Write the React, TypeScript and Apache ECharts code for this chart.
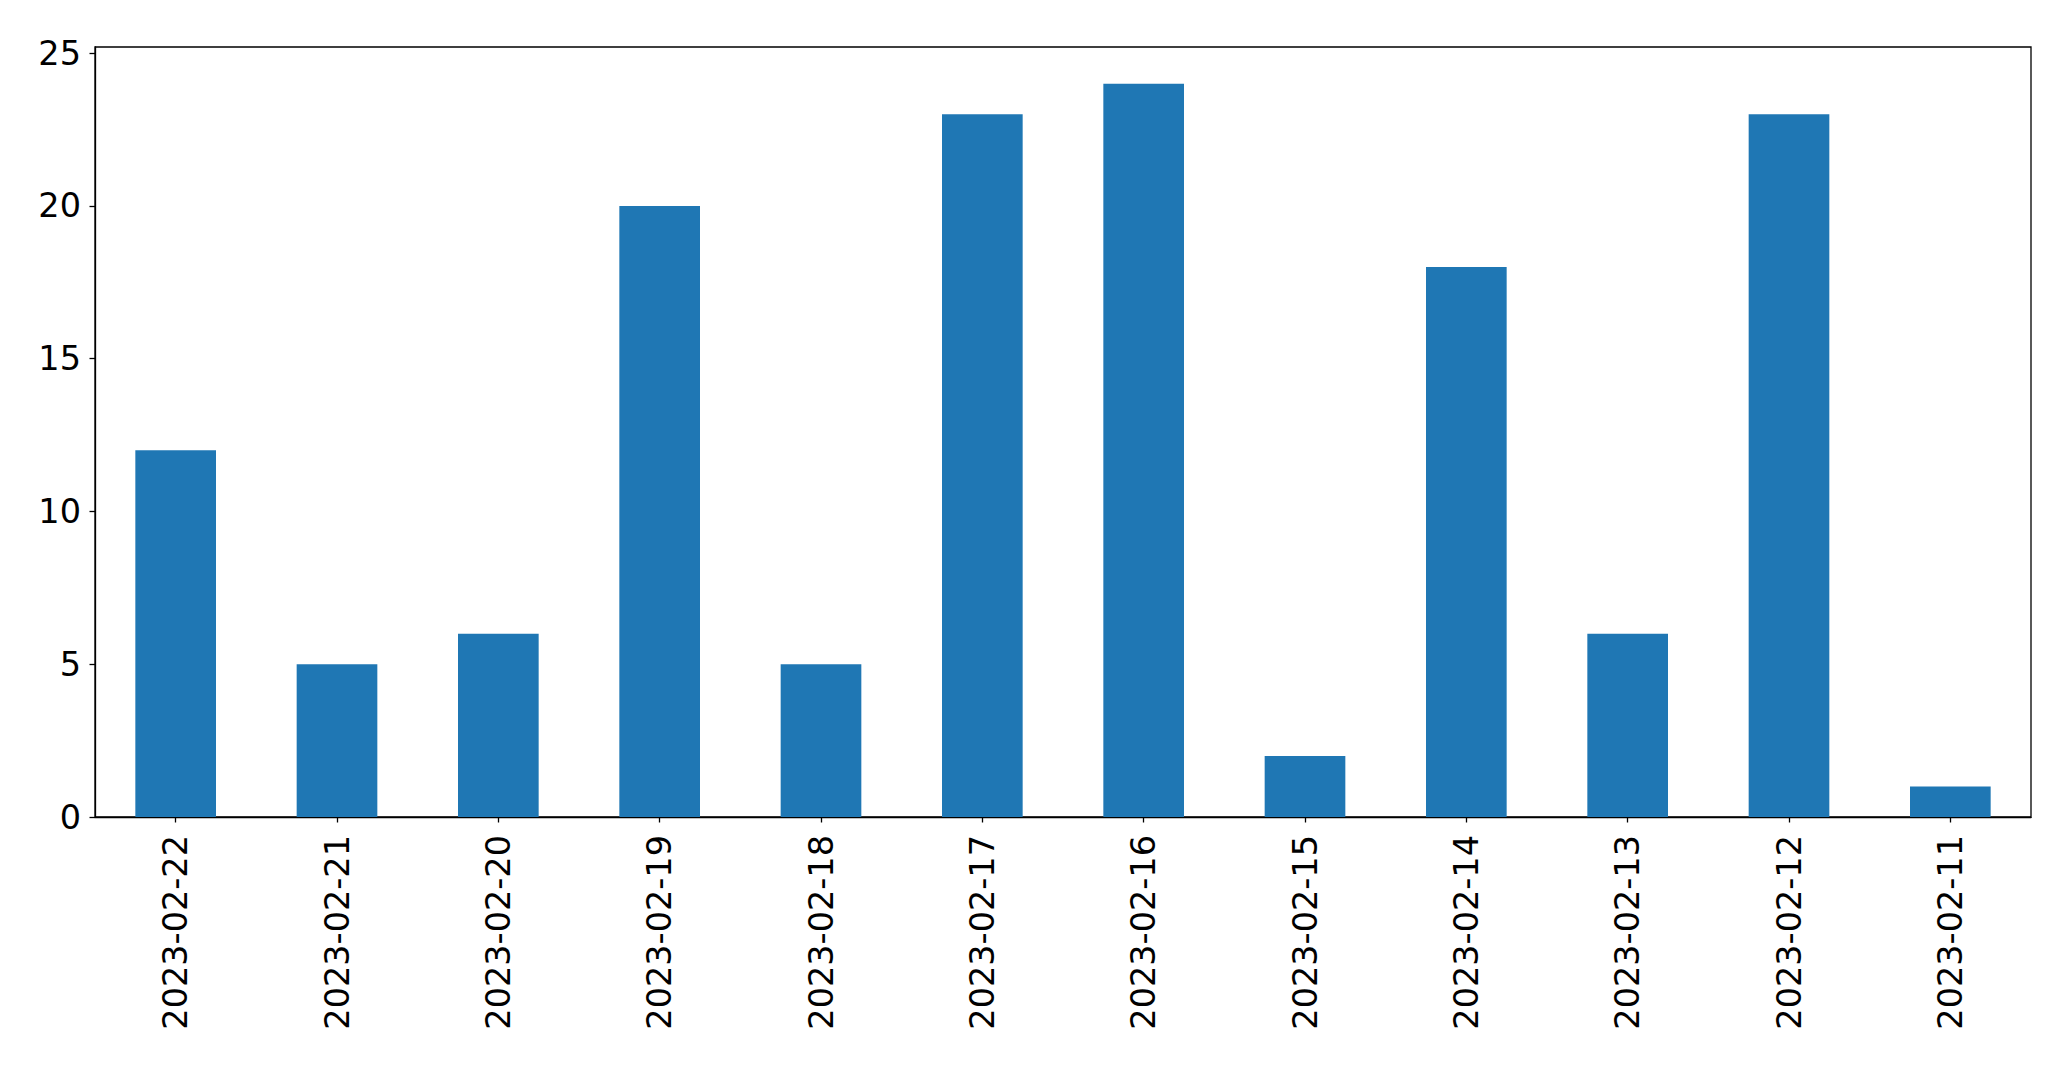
import React, { useEffect, useRef } from "react";
import * as echarts from "echarts";

const categories = [
  "2023-02-22", "2023-02-21", "2023-02-20", "2023-02-19", "2023-02-18", "2023-02-17",
  "2023-02-16", "2023-02-15", "2023-02-14", "2023-02-13", "2023-02-12", "2023-02-11",
];
const values = [12, 5, 6, 20, 5, 23, 24, 2, 18, 6, 23, 1];
const yTicks = [0, 5, 10, 15, 20, 25];

export default function App() {
  const ref = useRef<HTMLDivElement>(null);
  useEffect(() => {
    if (!ref.current) return;
    const chart = echarts.init(ref.current, null, { renderer: "svg" });
    const font = "DejaVu Sans";
    chart.setOption({
      animation: false,
      backgroundColor: "#ffffff",
      grid: {
        left: 95,
        right: 40,
        top: 47,
        bottom: 252,
        show: true,
        borderColor: "#000000",
        borderWidth: 1.3,
        backgroundColor: "transparent",
      },
      xAxis: {
        type: "category",
        data: categories,
        boundaryGap: true,
        axisLine: { show: true, lineStyle: { color: "#000000", width: 1.3 } },
        axisTick: { show: true, alignWithLabel: true, length: 5.5, lineStyle: { color: "#000000", width: 1.3 } },
        axisLabel: {
          rotate: 90,
          margin: 18,
          fontSize: 33.5,
          fontFamily: font,
          color: "#000000",
          interval: 0,
        },
        splitLine: { show: false },
      },
      yAxis: {
        type: "value",
        min: 0,
        max: 25.2,
        interval: 5,
        axisLine: { show: true, lineStyle: { color: "#000000", width: 1.3 } },
        axisTick: { show: true, length: 5.5, lineStyle: { color: "#000000", width: 1.3 }, customValues: yTicks },
        axisLabel: {
          margin: 14,
          fontSize: 33.5,
          fontFamily: font,
          color: "#000000",
          customValues: yTicks,
        },
        splitLine: { show: false },
      },
      series: [
        {
          type: "bar",
          data: values,
          barWidth: "50%",
          itemStyle: { color: "#1f77b4" },
        },
      ],
    });
    return () => chart.dispose();
  }, []);
  return (
    <div
      ref={ref}
      style={{ position: "fixed", left: 0, top: 0, width: 2071, height: 1069, background: "#fff" }}
    />
  );
}
